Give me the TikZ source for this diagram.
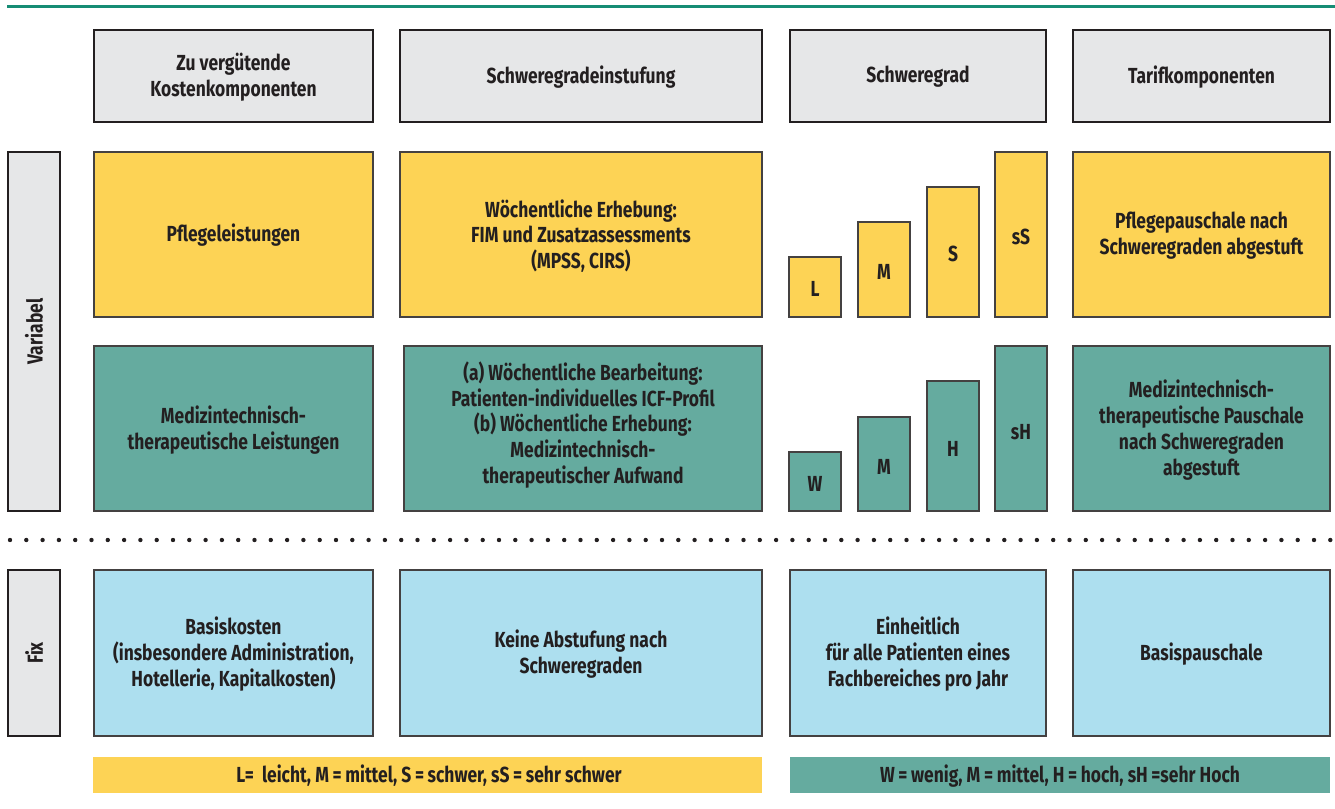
\documentclass[tikz,border=0pt]{standalone}
\usepackage{fontspec}
\setmainfont{Fira Sans}[FakeStretch=0.8]
\usepackage{tikz}

\definecolor{gelb}{HTML}{FDD355}
\definecolor{petrol}{HTML}{65AB9F}
\definecolor{hellblau}{HTML}{ADDFEF}
\definecolor{hellgrau}{HTML}{E6E7E8}
\definecolor{linie}{HTML}{168C74}
\definecolor{dunkel}{HTML}{231F20}

\begin{document}
\begin{tikzpicture}[x=0.5pt, y=-0.5pt,
	kopf/.style={draw=dunkel, line width=1.1pt, fill=hellgrau},
	feld/.style={draw=dunkel!85, line width=0.65pt},
	txt/.style={align=center, text=dunkel, font=\bfseries\fontsize{10.9}{12.9}\selectfont}]

			\useasboundingbox (0,0) rectangle (1335,809);

			% Linie oben
			\draw[linie, line width=1.5pt] (7,6)--(1335,6);

			% Kopfzeile
			\draw[kopf] (94,30) rectangle (373,122);
			\draw[kopf] (400,30) rectangle (762,122);
			\draw[kopf] (790,30) rectangle (1046,122);
			\draw[kopf] (1073,30) rectangle (1330,122);
			\node[txt] (kosten) at (233.5,77) {Zu vergütende\\Kostenkomponenten};
			\node[txt] (einstufung) at (581,77) {Schweregradeinstufung};
			\node[txt] (grad) at (918,77) {Schweregrad};
			\node[txt] (tarif) at (1201.5,77) {Tarifkomponenten};

			% Variabel / Fix
			\draw[kopf] (8,152) rectangle (60,511);
			\draw[kopf] (8,570) rectangle (60,736);
			\node[txt, rotate=90] (variabel) at (34,331.5) {Variabel};
			\node[txt, rotate=90] (fix) at (34,653) {Fix};

			% Pflege
			\draw[feld, fill=gelb] (94,152) rectangle (373,317);
			\draw[feld, fill=gelb] (400,152) rectangle (762,317);
			\draw[feld, fill=gelb] (1073,152) rectangle (1330,317);
			\node[txt] (pflege) at (233.5,235.5) {Pflegeleistungen};
			\node[txt] (erhebung) at (581,236) {Wöchentliche Erhebung:\\FIM und Zusatzassessments\\(MPSS, CIRS)};
			\node[txt] (pflegepausch) at (1201.5,235.5) {Pflegepauschale nach\\Schweregraden abgestuft};

			\draw[feld, fill=gelb] (789,257) rectangle (841,317);
			\draw[feld, fill=gelb] (858,222) rectangle (910,317);
			\draw[feld, fill=gelb] (927,187) rectangle (979,317);
			\draw[feld, fill=gelb] (995,152) rectangle (1047,317);
			\node[txt] (gL) at (815,289) {L};
			\node[txt] (gM) at (884,272) {M};
			\node[txt] (gS) at (953,254) {S};
			\node[txt] (gsS) at (1021,237) {sS};

			% Medizintechnik
			\draw[feld, fill=petrol] (94,346) rectangle (373,511);
			\draw[feld, fill=petrol] (404,346) rectangle (762,511);
			\draw[feld, fill=petrol] (1073,346) rectangle (1330,511);
			\node[txt] (medizin) at (233.5,430) {Medizintechnisch-\\therapeutische Leistungen};
			\node[txt] (bearbeitung) at (583,425) {(a) Wöchentliche Bearbeitung:\\Patienten-individuelles ICF-Profil\\(b) Wöchentliche Erhebung:\\Medizintechnisch-\\therapeutischer Aufwand};
			\node[txt] (medpausch) at (1201.5,430) {Medizintechnisch-\\therapeutische Pauschale\\nach Schweregraden\\abgestuft};

			\draw[feld, fill=petrol] (789,452) rectangle (841,511);
			\draw[feld, fill=petrol] (858,417) rectangle (910,511);
			\draw[feld, fill=petrol] (927,381) rectangle (979,511);
			\draw[feld, fill=petrol] (995,346) rectangle (1047,511);
			\node[txt] (mW) at (815,484) {W};
			\node[txt] (mM) at (884,467) {M};
			\node[txt] (mH) at (953,449) {H};
			\node[txt] (msH) at (1021,432) {sH};

			% Trennlinie
			\foreach \i in {0,...,81}
				\fill[dunkel] (10+16.3*\i,540) circle (1.1pt);

			% Fix
			\draw[feld, fill=hellblau] (94,570) rectangle (373,736);
			\draw[feld, fill=hellblau] (400,570) rectangle (762,736);
			\draw[feld, fill=hellblau] (790,570) rectangle (1046,736);
			\draw[feld, fill=hellblau] (1073,570) rectangle (1330,736);
			\node[txt] (basis) at (233.5,654) {Basiskosten\\(insbesondere Administration,\\Hotellerie, Kapitalkosten)};
			\node[txt] (keine) at (581,654) {Keine Abstufung nach\\Schweregraden};
			\node[txt] (einheit) at (918,654) {Einheitlich\\für alle Patienten eines\\Fachbereiches pro Jahr};
			\node[txt] (basispausch) at (1201.5,654) {Basispauschale};

			% Legende
			\fill[gelb] (93,757) rectangle (762,793);
			\fill[petrol] (790,757) rectangle (1330,793);
			\node[txt] (legpflege) at (429,776) {L=\ \ leicht, M\,=\,mittel, S\,=\,schwer, sS\,=\,sehr schwer};
			\node[txt] (legmed) at (1060,776) {W\,=\,wenig, M\,=\,mittel, H\,=\,hoch, sH\,=sehr Hoch};
		\end{tikzpicture}
\end{document}
